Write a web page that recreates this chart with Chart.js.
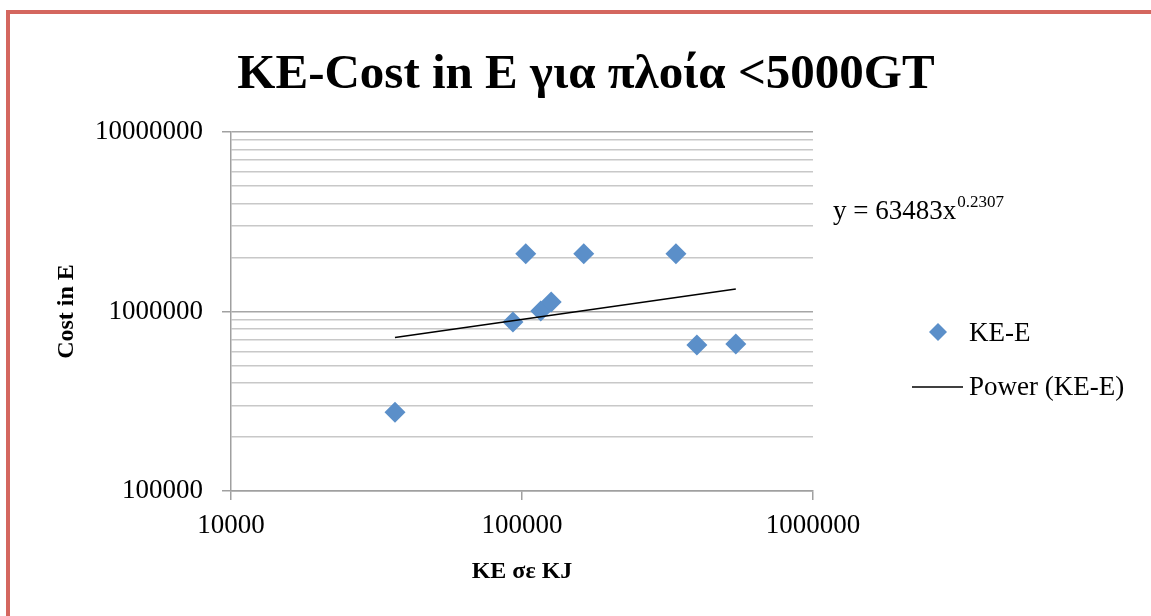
<!DOCTYPE html>
<html>
<head>
<meta charset="utf-8">
<title>KE-Cost</title>
<script src="https://cdn.jsdelivr.net/npm/chart.js@4.4.1/dist/chart.umd.min.js"></script>
<style>
    html, body { margin: 0; padding: 0; background: #fff; overflow: hidden; }
    #wrap { position: relative; width: 1151px; height: 616px; }
    #frame {
        position: absolute; left: 6px; top: 10px; right: -20px; bottom: -20px;
        border-left: 4px solid #D4675F; border-top: 4px solid #D4675F;
    }
    #cost-chart { position: absolute; left: 0; top: 0; }
</style>
</head>
<body>
<div id="wrap">
    <div id="frame"></div>
    <canvas id="cost-chart" width="1151" height="616"></canvas>
</div>
<script>
// Kinetic energy (KJ) against cost (E), ships under 5000GT
const keValues = [36600, 93100, 103000, 116000, 126000, 163000, 338000, 399000, 543000];
const costValues = [275000, 874000, 2100000, 1007000, 1130000, 2100000, 2100000, 650000, 659000];

// axis ticks
const xMajorTicks = [10000, 100000, 1000000];
const yMajorTicks = [100000, 1000000, 10000000];
const minorSteps = [2, 3, 4, 5, 6, 7, 8, 9];

// power trendline y = a * x^b
const trendCoef = 63483;
const trendExp = 0.2307;

const chartTitle = 'KE-Cost in E για πλοία <5000GT';
const seriesName = 'KE-E';
const trendName = 'Power (KE-E)';

const FONT = "'Liberation Serif', 'Times New Roman', serif";
const pointColor = '#5B8FC9';

function logTicks(majors, withMinor) {
    const ticks = [];
    majors.forEach((m, i) => {
        ticks.push({ value: m, major: true });
        if (withMinor && i < majors.length - 1) {
            minorSteps.forEach(s => ticks.push({ value: m * s, major: false }));
        }
    });
    return ticks;
}

const points = keValues.map((x, i) => ({ x: x, y: costValues[i] }));
const xMin = Math.min(...keValues);
const xMax = Math.max(...keValues);
const trendPoints = [xMin, xMax].map(x => ({ x: x, y: trendCoef * Math.pow(x, trendExp) }));

// title, equation label and legend drawn onto the canvas
const decorations = {
    id: 'decorations',
    afterDraw(chart) {
        const ctx = chart.ctx;
        ctx.save();
        ctx.fillStyle = '#000';
        ctx.textBaseline = 'middle';

        ctx.font = 'bold 49px ' + FONT;
        ctx.textAlign = 'center';
        ctx.fillText(chartTitle, 586, 75);

        // trendline equation
        ctx.textAlign = 'left';
        ctx.font = '27px ' + FONT;
        const eq = 'y = ' + trendCoef + 'x';
        ctx.fillText(eq, 833, 212);
        const w = ctx.measureText(eq).width;
        ctx.font = '17px ' + FONT;
        ctx.fillText(String(trendExp), 833 + w + 1, 203);

        // legend
        ctx.fillStyle = pointColor;
        Chart.helpers.drawPoint(ctx, { pointStyle: 'rectRot', radius: 9, borderWidth: 0 }, 938, 332);

        ctx.strokeStyle = '#000';
        ctx.lineWidth = 1.5;
        ctx.beginPath();
        ctx.moveTo(912, 387);
        ctx.lineTo(963, 387);
        ctx.stroke();

        ctx.fillStyle = '#000';
        ctx.font = '27px ' + FONT;
        ctx.fillText(seriesName, 969, 334);
        ctx.fillText(trendName, 969, 388);
        ctx.restore();
    }
};

const ctx = document.getElementById('cost-chart').getContext('2d');
const costChart = new Chart(ctx, {
    type: 'scatter',
    data: {
        datasets: [
            {
                label: seriesName,
                data: points,
                pointStyle: 'rectRot',
                pointRadius: 10.5,
                pointBackgroundColor: pointColor,
                pointBorderWidth: 0,
                showLine: false,
                order: 1
            },
            {
                label: trendName,
                type: 'line',
                data: trendPoints,
                borderColor: '#000',
                borderWidth: 1.6,
                pointRadius: 0,
                fill: false,
                order: 0
            }
        ]
    },
    options: {
        responsive: false,
        devicePixelRatio: 1,
        animation: false,
        layout: { padding: { top: 132, right: 338, bottom: 0, left: 0 } },
        plugins: {
            legend: { display: false },
            title: { display: false },
            tooltip: { enabled: false }
        },
        scales: {
            x: {
                type: 'logarithmic',
                min: 10000,
                max: 1000000,
                afterBuildTicks: scale => { scale.ticks = logTicks(xMajorTicks, false); },
                afterFit: scale => { scale.height = 125; },
                border: { color: '#A0A0A0', width: 1.5 },
                grid: { drawOnChartArea: false, tickLength: 9, color: '#A0A0A0', lineWidth: 1.5 },
                ticks: {
                    autoSkip: false,
                    maxRotation: 0,
                    padding: 10,
                    color: '#000',
                    font: { family: FONT, size: 27 },
                    callback: (value) => String(value)
                },
                title: {
                    display: true,
                    text: 'KE σε KJ',
                    color: '#000',
                    font: { family: FONT, size: 24, weight: 'bold' },
                    padding: { top: 0, bottom: 30 }
                }
            },
            y: {
                type: 'logarithmic',
                min: 100000,
                max: 10000000,
                afterBuildTicks: scale => { scale.ticks = logTicks(yMajorTicks, true); },
                afterFit: scale => { scale.width = 231; },
                border: { color: '#A0A0A0', width: 1.5 },
                grid: {
                    tickLength: 9,
                    lineWidth: 1.5,
                    color: c => (c.tick && c.tick.major ? '#A6A6A6' : '#C8C8C8'),
                    tickColor: c => (c.tick && c.tick.major ? '#A0A0A0' : 'rgba(0,0,0,0)')
                },
                ticks: {
                    autoSkip: false,
                    padding: 19,
                    color: '#000',
                    font: { family: FONT, size: 27 },
                    callback: (value, index, ticks) => (ticks[index].major ? String(value) : '')
                },
                title: {
                    display: true,
                    text: 'Cost in E',
                    color: '#000',
                    font: { family: FONT, size: 24, weight: 'bold' },
                    padding: { top: 52, bottom: 0 }
                }
            }
        }
    },
    plugins: [decorations]
});
</script>
</body>
</html>
